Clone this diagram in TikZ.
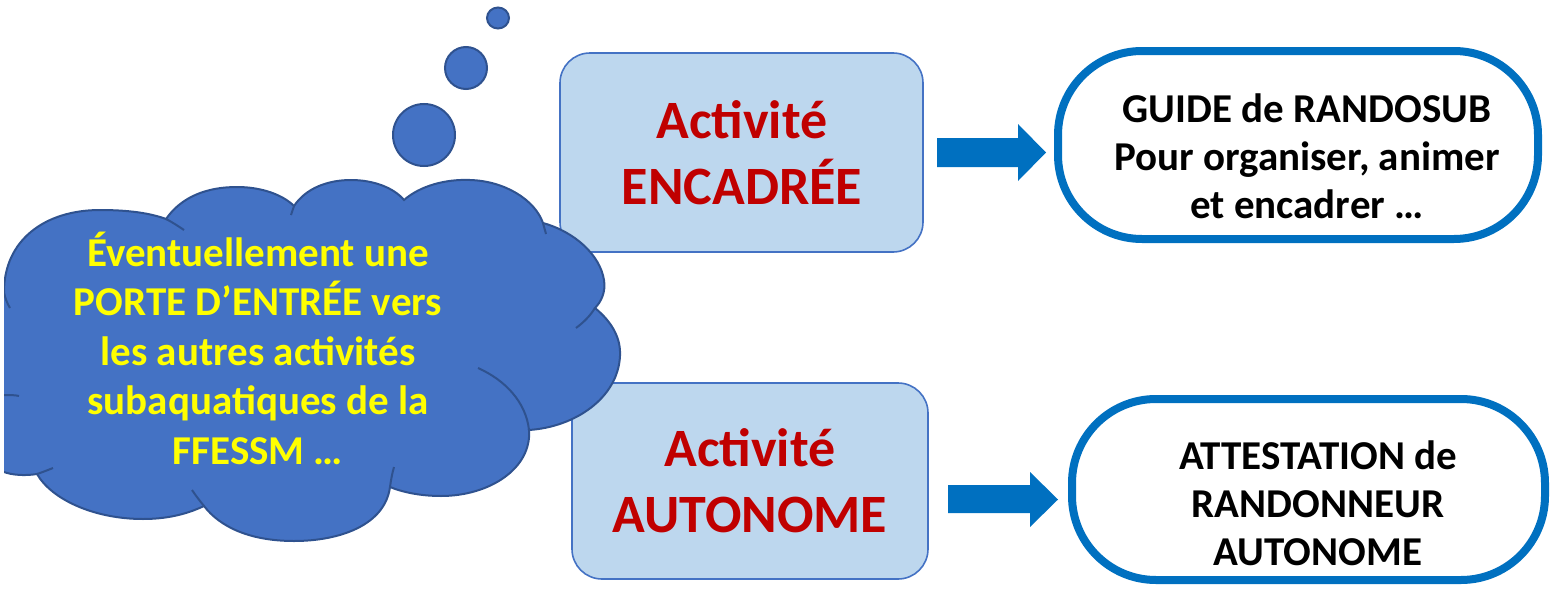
\documentclass[tikz,border=0pt]{standalone}
\usepackage{fontspec}
\setmainfont{Carlito}
\definecolor{cloudfill}{HTML}{4472C4}
\definecolor{cloudline}{HTML}{2F528F}
\definecolor{boxfill}{HTML}{BDD7EE}
\definecolor{boxline}{HTML}{4472C4}
\definecolor{arrowblue}{HTML}{0070C0}
\definecolor{redtxt}{HTML}{C00000}
\definecolor{yellowtxt}{HTML}{FFFF00}
\begin{document}
\begin{tikzpicture}[x=1pt,y=-1pt,
  actbox/.style={draw=boxline, fill=boxfill, line width=1.6pt, rounded corners=30pt, inner sep=0pt},
  resbox/.style={draw=arrowblue, fill=white, line width=8pt, rounded corners=84pt, inner sep=0pt},
  redtext/.style={text=redtxt, font=\fontsize{54}{66}\selectfont\bfseries, align=center, inner sep=0pt},
  blacktext/.style={text=black, font=\fontsize{41}{48}\selectfont\bfseries, align=center, inner sep=0pt},
  cloudtext/.style={text=yellowtxt, font=\fontsize{41}{49.5}\selectfont\bfseries, align=center, inner sep=0pt},
  cloudstroke/.style={draw=cloudline, line width=2pt},
  bubble/.style={fill=cloudfill, draw=cloudline, line width=2pt}
]
\useasboundingbox (0,0) rectangle (1551,589);

% left boxes
\node[actbox, minimum width=363pt, minimum height=199pt] (enc) at (741.5,152.5) {};
\node[actbox, minimum width=356pt, minimum height=196pt] (aut) at (750,481) {};
\node[redtext] (enctxt) at (742,153) {Activité\\ENCADRÉE};
\node[redtext] (auttxt) at (750,481) {Activité\\AUTONOME};

% right boxes
\node[resbox, minimum width=480pt, minimum height=188pt] (guide) at (1298,145) {};
\node[resbox, minimum width=473pt, minimum height=181pt] (att) at (1308.5,489.5) {};
\node[blacktext] (guidetxt) at (1307,156) {GUIDE de RANDOSUB\\Pour organiser, animer\\et encadrer …};
\node[blacktext] (atttxt) at (1318,503) {ATTESTATION de\\RANDONNEUR\\AUTONOME};

% block arrows
\fill[arrowblue] (937,138) -- (1018,138) -- (1018,124) -- (1046,152.5) -- (1018,181) -- (1018,167) -- (937,167) -- cycle;
\fill[arrowblue] (948,485) -- (1030,485) -- (1030,472) -- (1058,499.5) -- (1030,527) -- (1030,513) -- (948,513) -- cycle;

% cloud
\begin{scope}
\clip (4,0) rectangle (1551,589);
\fill[cloudfill] (4,292)
  .. controls (4,240) and (45,210) .. (100,210)
  .. controls (128,210) and (150,213) .. (166,219)
  .. controls (182,196) and (208,187) .. (237,187)
  .. controls (262,187) and (283,195) .. (294,206)
  .. controls (306,188) and (328,180) .. (351,180)
  .. controls (374,180) and (394,188) .. (404,200)
  .. controls (420,186) and (445,179) .. (470,180)
  .. controls (505,181) and (535,200) .. (543,223)
  .. controls (575,232) and (600,255) .. (604,280)
  .. controls (606,292) and (601,302) .. (595,308)
  .. controls (612,322) and (621,338) .. (620,356)
  .. controls (618,398) and (575,427) .. (529,430)
  .. controls (532,468) and (490,496) .. (441,496)
  .. controls (420,496) and (402,492) .. (390,487)
  .. controls (385,525) and (340,541) .. (294,541)
  .. controls (250,541) and (220,527) .. (204,506)
  .. controls (185,515) and (165,519) .. (143,519)
  .. controls (95,519) and (52,500) .. (37,474)
  .. controls (25,476) and (12,475) .. (4,472)
  -- cycle;
\draw[cloudstroke] (4,292)
  .. controls (4,240) and (45,210) .. (100,210)
  .. controls (128,210) and (150,213) .. (166,219)
  .. controls (182,196) and (208,187) .. (237,187)
  .. controls (262,187) and (283,195) .. (294,206)
  .. controls (306,188) and (328,180) .. (351,180)
  .. controls (374,180) and (394,188) .. (404,200)
  .. controls (420,186) and (445,179) .. (470,180)
  .. controls (505,181) and (535,200) .. (543,223)
  .. controls (575,232) and (600,255) .. (604,280)
  .. controls (606,292) and (601,302) .. (595,308)
  .. controls (612,322) and (621,338) .. (620,356)
  .. controls (618,398) and (575,427) .. (529,430)
  .. controls (532,468) and (490,496) .. (441,496)
  .. controls (420,496) and (402,492) .. (390,487)
  .. controls (385,525) and (340,541) .. (294,541)
  .. controls (250,541) and (220,527) .. (204,506)
  .. controls (185,515) and (165,519) .. (143,519)
  .. controls (95,519) and (52,500) .. (37,474)
  .. controls (25,476) and (12,475) .. (4,472);
% inner stubs
\draw[cloudstroke] (166,219) .. controls (172,222) and (178,226) .. (184,230);
\draw[cloudstroke] (4,292) .. controls (5,298) and (7,303) .. (10,308);
\draw[cloudstroke] (294,206) .. controls (293,209) and (292,212) .. (291,215);
\draw[cloudstroke] (543,223) .. controls (544,227) and (545,230) .. (546,234);
\draw[cloudstroke] (595,308) .. controls (590,316) and (584,322) .. (576,328);
\draw[cloudstroke] (478,368) .. controls (505,380) and (526,402) .. (529,430);
\draw[cloudstroke] (394,467) .. controls (392,474) and (391,480) .. (390,487);
\draw[cloudstroke] (204,506) .. controls (200,501) and (196,496) .. (192,490);
\draw[cloudstroke] (37,474) .. controls (43,472) and (48,470) .. (53,468);
\draw[cloudstroke] (4,395) .. controls (10,395) and (15,395) .. (19,396);
\end{scope}
\node[cloudtext] (cloudtxt) at (258,348) {Éventuellement une\\PORTE D’ENTRÉE vers\\les autres activités\\subaquatiques de la\\FFESSM …};

% thought bubbles
\path[bubble] (424,135) ellipse [x radius=31pt, y radius=31pt];
\path[bubble] (466,68) ellipse [x radius=21pt, y radius=21pt];
\path[bubble] (498,18) ellipse [x radius=11pt, y radius=10.5pt];
\end{tikzpicture}
\end{document}
